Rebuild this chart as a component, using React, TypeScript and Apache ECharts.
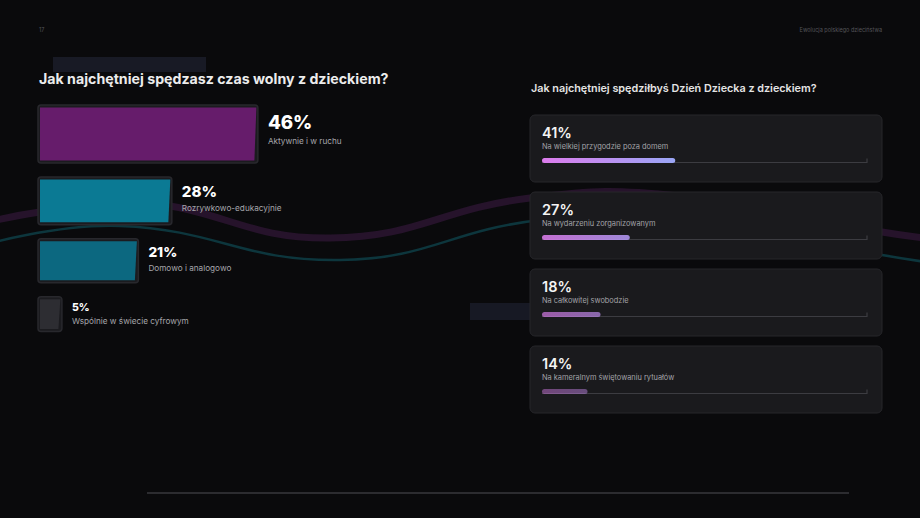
import React, { useEffect, useRef } from "react";
import * as echarts from "echarts";

// left block: "Jak najchętniej spędzasz czas wolny z dzieckiem?"
const activityLabels = [
  "Aktywnie i w ruchu",
  "Rozrywkowo-edukacyjnie",
  "Domowo i analogowo",
  "Wspólnie w świecie cyfrowym",
];
const activityShares = [46, 28, 21, 5];

// right block: "Jak najchętniej spędziłbyś Dzień Dziecka z dzieckiem?"
const dayLabels = [
  "Na wielkiej przygodzie poza domem",
  "Na wydarzeniu zorganizowanym",
  "Na całkowitej swobodzie",
  "Na kameralnym świętowaniu rytuałów",
];
const dayShares = [41, 27, 18, 14];

const activityColors = ["#661c6b", "#0b7a94", "#0c6880", "#2d2d32"];
const dayOpacity = [1, 0.87, 0.67, 0.45];

const FONT = "Inter, 'Noto Sans', sans-serif";
const BAR_GAP = 14;

// bar height and label size grow with the share
const barHeight = (v: number) => 32 + v * 0.565;
const pctSize = (v: number) => 9.5 + v * 0.2;

export default function App() {
  const chartRef = useRef<HTMLDivElement>(null);

  useEffect(() => {
    if (!chartRef.current) return;
    document.body.style.margin = "0";
    document.body.style.background = "#0a0a0c";
    const chart = echarts.init(chartRef.current, null, { renderer: "svg" });

    const renderActivity = (params: any, api: any) => {
      const i = params.dataIndex;
      const v = api.value(0);
      let top = params.coordSys.y;
      for (let j = 0; j < i; j++) top += barHeight(activityShares[j]) + BAR_GAP;
      const h = barHeight(v);
      const x0 = api.coord([0, i])[0];
      const x1 = api.coord([v, i])[0];
      const mid = top + h / 2;
      return {
        type: "group",
        children: [
          {
            type: "rect",
            shape: { x: x0, y: top, width: x1 - x0, height: h, r: 3 },
            style: { fill: "#1b1b1f", stroke: "#28282d", lineWidth: 1.5 },
          },
          {
            type: "polygon",
            shape: {
              points: [
                [x0 + 2, top + 2.5],
                [x1 - 1.5, top + 2.5],
                [x1 - 3.5, top + h - 2.5],
                [x0 + 2, top + h - 2.5],
              ],
            },
            style: { fill: activityColors[i] },
          },
          {
            type: "text",
            style: {
              text: v + "%",
              x: x1 + 10,
              y: mid - 1.5,
              fill: "#ffffff",
              font: `800 ${pctSize(v).toFixed(1)}px ${FONT}`,
              verticalAlign: "bottom",
            },
          },
          {
            type: "text",
            style: {
              text: activityLabels[i],
              x: x1 + 10,
              y: mid + 7,
              fill: "#a6a6ab",
              font: `400 8.2px ${FONT}`,
              verticalAlign: "middle",
            },
          },
        ],
      };
    };

    const renderDay = (params: any, api: any) => {
      const i = params.dataIndex;
      const v = api.value(0);
      const [x0, cy] = api.coord([0, i]);
      const xv = api.coord([v, i])[0];
      const xEnd = api.coord([100, i])[0];
      const xMax = api.coord([Math.max(...dayShares), i])[0];
      const T = cy - api.size([0, 1])[1] / 2;
      return {
        type: "group",
        children: [
          {
            type: "rect",
            shape: { x: x0 - 12, y: T, width: xEnd - x0 + 27, height: 67, r: 5 },
            style: { fill: "#1a1a1d", stroke: "#26262a", lineWidth: 1 },
          },
          {
            type: "polyline",
            shape: {
              points: [
                [x0, T + 47.5],
                [xEnd, T + 47.5],
                [xEnd, T + 43.5],
              ],
            },
            style: { stroke: "#3c3c41", lineWidth: 1.2, fill: null },
          },
          {
            type: "rect",
            shape: { x: x0, y: T + 43, width: xv - x0, height: 5, r: 2.5 },
            style: {
              opacity: dayOpacity[i],
              fill: {
                type: "linear",
                x: x0,
                y: 0,
                x2: xMax,
                y2: 0,
                global: true,
                colorStops: [
                  { offset: 0, color: "#dc7cec" },
                  { offset: 1, color: "#9aa6f6" },
                ],
              },
            },
          },
          {
            type: "text",
            style: {
              text: v + "%",
              x: x0,
              y: T + 25,
              fill: "#f4f4f4",
              font: `600 14.5px ${FONT}`,
              verticalAlign: "bottom",
            },
          },
          {
            type: "text",
            style: {
              text: dayLabels[i],
              x: x0,
              y: T + 31.5,
              fill: "#a3a3a8",
              font: `400 7.4px ${FONT}`,
              verticalAlign: "middle",
            },
          },
        ],
      };
    };

    chart.setOption({
      animation: false,
      backgroundColor: "#0a0a0c",
      grid: [
        { left: 38, top: 105, width: 478, height: 227 },
        { left: 542, top: 115, width: 325, height: 308 },
      ],
      xAxis: [
        { gridIndex: 0, type: "value", min: 0, max: 100, show: false },
        { gridIndex: 1, type: "value", min: 0, max: 100, show: false },
      ],
      yAxis: [
        { gridIndex: 0, type: "category", data: activityLabels, inverse: true, show: false },
        { gridIndex: 1, type: "category", data: dayLabels, inverse: true, show: false },
      ],
      graphic: {
        elements: [
          // decorative waves
          {
            type: "polyline",
            z: 0,
            shape: {
              points: [[-20, 224], [40, 212], [140, 202], [330, 238], [530, 198], [680, 196], [882, 232], [940, 240]],
              smooth: 0.45,
            },
            style: { stroke: "#26132b", lineWidth: 7, fill: null },
          },
          {
            type: "polyline",
            z: 0,
            shape: {
              points: [[-20, 246], [120, 226], [340, 260], [540, 220], [690, 220], [882, 255], [940, 264]],
              smooth: 0.45,
            },
            style: { stroke: "#0d363d", lineWidth: 2.5, fill: null },
          },
          { type: "rect", z: 0, shape: { x: 53, y: 57, width: 153, height: 15 }, style: { fill: "#181a25" } },
          { type: "rect", z: 0, shape: { x: 470, y: 303, width: 70, height: 17 }, style: { fill: "#171924" } },
          {
            type: "text",
            z: 10,
            x: 39,
            y: 30,
            style: { text: "17", fill: "#55555a", font: `400 5.5px ${FONT}`, verticalAlign: "middle" },
          },
          {
            type: "text",
            z: 10,
            x: 882,
            y: 30,
            style: {
              text: "Ewolucja polskiego dzieciństwa",
              fill: "#55555a",
              font: `400 5.5px ${FONT}`,
              align: "right",
              verticalAlign: "middle",
            },
          },
          {
            type: "text",
            z: 10,
            x: 39,
            y: 78,
            style: {
              text: "Jak najchętniej spędzasz czas wolny z dzieckiem?",
              fill: "#ececec",
              font: `700 14.2px ${FONT}`,
              verticalAlign: "middle",
            },
          },
          {
            type: "text",
            z: 10,
            x: 531,
            y: 88,
            style: {
              text: "Jak najchętniej spędziłbyś Dzień Dziecka z dzieckiem?",
              fill: "#e4e4e4",
              font: `600 10.8px ${FONT}`,
              verticalAlign: "middle",
            },
          },
          {
            type: "line",
            z: 0,
            shape: { x1: 147, y1: 493, x2: 849, y2: 493 },
            style: { stroke: "#38383d", lineWidth: 1.5 },
          },
        ],
      },
      series: [
        {
          type: "custom",
          xAxisIndex: 0,
          yAxisIndex: 0,
          renderItem: renderActivity,
          encode: { x: 0, y: 1 },
          data: activityShares.map((v, i) => [v, i]),
        },
        {
          type: "custom",
          xAxisIndex: 1,
          yAxisIndex: 1,
          renderItem: renderDay,
          encode: { x: 0, y: 1 },
          data: dayShares.map((v, i) => [v, i]),
        },
      ],
    });

    return () => {
      chart.dispose();
    };
  }, []);

  return <div ref={chartRef} style={{ width: 920, height: 518 }} />;
}
